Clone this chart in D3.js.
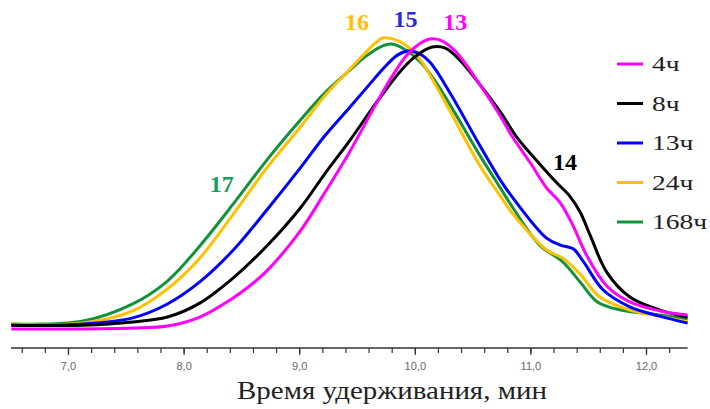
<!DOCTYPE html>
<html>
<head>
<meta charset="utf-8">
<script src="https://cdn.jsdelivr.net/npm/d3@7"></script>
<style>
  body { margin: 0; background: #fff; }
</style>
</head>
<body>
<script>
// retention time (min), detector signal (arb. units, 0..100)
var series4h = [[6.51,-1.0],[7.13,-1.0],[7.56,-0.7],[7.86,0.0],[8.14,3.1],[8.43,9.7],[8.57,13.8],[8.72,19.0],[9.01,32.8],[9.22,45.9],[9.44,60.3],[9.64,74.8],[9.79,85.2],[9.93,93.4],[10.05,97.6],[10.13,99.0],[10.22,98.6],[10.35,94.8],[10.56,83.4],[10.74,72.4],[10.84,65.5],[11.00,56.2],[11.14,47.6],[11.26,42.4],[11.37,34.5],[11.49,24.1],[11.66,13.8],[11.86,8.3],[12.12,5.2],[12.36,3.8]];
var series8h = [[6.51,0.3],[7.13,0.3],[7.56,1.4],[7.86,3.1],[8.14,7.9],[8.43,16.6],[8.72,27.6],[9.01,40.7],[9.22,52.4],[9.44,64.1],[9.66,76.6],[9.87,87.6],[10.00,92.8],[10.15,96.2],[10.26,95.9],[10.39,91.7],[10.56,83.4],[10.74,73.8],[10.88,65.2],[11.08,55.9],[11.23,49.3],[11.34,44.8],[11.43,39.3],[11.52,31.0],[11.66,18.6],[11.86,10.0],[12.12,5.5],[12.36,3.1]];
var series13h = [[6.51,0.3],[7.13,0.7],[7.56,2.8],[7.86,7.6],[8.14,15.2],[8.43,26.2],[8.72,40.0],[9.01,54.5],[9.22,65.5],[9.44,75.5],[9.61,83.4],[9.74,89.3],[9.85,93.4],[9.94,94.8],[10.03,94.1],[10.13,91.0],[10.30,80.7],[10.56,62.4],[10.74,50.3],[10.85,44.1],[11.14,30.3],[11.26,27.9],[11.37,26.6],[11.46,22.1],[11.63,12.4],[11.86,6.6],[12.12,3.4],[12.36,1.0]];
var series24h = [[6.51,0.7],[7.13,1.0],[7.56,5.2],[7.86,12.8],[8.14,23.4],[8.43,38.6],[8.72,54.5],[9.01,68.6],[9.22,79.3],[9.44,88.6],[9.57,94.1],[9.66,97.6],[9.72,99.3],[9.81,99.0],[9.92,96.9],[10.05,91.7],[10.17,83.8],[10.30,74.5],[10.56,55.5],[10.74,44.8],[10.85,38.6],[11.14,26.2],[11.28,23.4],[11.43,17.9],[11.60,10.0],[11.86,5.5],[12.12,3.4],[12.36,1.4]];
var series168h = [[6.51,0.7],[7.13,1.7],[7.56,7.6],[7.86,15.5],[8.14,27.6],[8.43,42.1],[8.72,57.2],[9.01,71.0],[9.22,80.3],[9.44,88.3],[9.57,92.8],[9.70,96.2],[9.80,97.2],[9.92,95.2],[10.05,91.0],[10.17,84.8],[10.30,76.6],[10.56,59.0],[10.74,47.6],[10.85,40.7],[11.08,27.9],[11.28,22.1],[11.43,15.2],[11.58,8.3],[11.78,5.5],[12.12,3.8],[12.36,2.4]];

var legendLabels = ["4ч", "8ч", "13ч", "24ч", "168ч"];
var colors = ["#ff00ff", "#000000", "#0000ff", "#ffc000", "#12923a"];
var tickValues = [7, 8, 9, 10, 11, 12];

// peak numbers: label, time, signal
var peakLabels = [["16", 9.50, 102.2], ["15", 9.92, 103.1], ["13", 10.35, 102.2], ["14", 11.30, 53.8], ["17", 8.33, 46.2]];
var peakColors = ["#ffc000", "#2a2ae0", "#ff00ff", "#000000", "#15a05a"];

var serif = "'Liberation Serif', serif";
var width = 710, height = 409;

var svg = d3.select("body").append("svg")
  .attr("width", width)
  .attr("height", height);

var x = d3.scaleLinear().domain([7, 12]).range([68, 646]);
var y = d3.scaleLinear().domain([0, 100]).range([326, 36]);

var line = d3.line()
  .x(function (d) { return x(d[0]); })
  .y(function (d) { return y(d[1]); })
  .curve(d3.curveCatmullRom.alpha(0.5));

var allSeries = [series4h, series8h, series13h, series24h, series168h];
var drawOrder = [4, 3, 2, 1, 0];

drawOrder.forEach(function (i) {
  svg.append("path")
    .attr("d", line(allSeries[i]))
    .attr("fill", "none")
    .attr("stroke", colors[i])
    .attr("stroke-width", 3)
    .attr("stroke-linejoin", "round");
});

// x axis
var axisY = 348;
var minorTicks = d3.range(6.6, 12.3, 0.2);
var axis = d3.axisBottom(x)
  .tickValues(minorTicks)
  .tickSize(5)
  .tickFormat("");
var gAxis = svg.append("g")
  .attr("transform", "translate(0," + axisY + ")")
  .call(axis);
gAxis.select(".domain").remove();
gAxis.selectAll("line").attr("stroke", "#333").attr("stroke-width", 1.2);

svg.append("line")
  .attr("x1", x(6.507)).attr("x2", x(12.36))
  .attr("y1", axisY).attr("y2", axisY)
  .attr("stroke", "#333").attr("stroke-width", 1.6);

var major = d3.axisBottom(x)
  .tickValues(tickValues)
  .tickSize(7)
  .tickPadding(7)
  .tickFormat(function (d) { return d3.format(".1f")(d).replace(".", ","); });
var gMajor = svg.append("g")
  .attr("transform", "translate(0," + axisY + ")")
  .call(major);
gMajor.select(".domain").remove();
gMajor.selectAll("line").attr("stroke", "#333").attr("stroke-width", 1.2);
gMajor.selectAll("text")
  .style("font-family", "'Liberation Sans', Arial, sans-serif")
  .attr("font-size", 11)
  .attr("fill", "#666");

svg.append("text")
  .attr("x", 392)
  .attr("y", 399)
  .attr("text-anchor", "middle")
  .attr("textLength", 310)
  .attr("lengthAdjust", "spacingAndGlyphs")
  .style("font-family", serif)
  .attr("font-size", 26)
  .attr("fill", "#222")
  .text("Время удерживания, мин");

// legend
var legend = svg.append("g");
legendLabels.forEach(function (lab, i) {
  var ly = 64 + i * 39.5;
  legend.append("line")
    .attr("x1", 617).attr("x2", 643)
    .attr("y1", ly).attr("y2", ly)
    .attr("stroke", colors[i])
    .attr("stroke-width", 3);
  legend.append("text")
    .attr("transform", "translate(652," + (ly + 7) + ") scale(1.25,1)")
    .style("font-family", serif)
    .attr("font-size", 22)
    .attr("fill", "#222")
    .text(lab);
});

// peak numbers
peakLabels.forEach(function (p, i) {
  svg.append("text")
    .attr("x", x(p[1]))
    .attr("y", y(p[2]))
    .attr("text-anchor", "middle")
    .style("font-family", serif)
    .attr("font-weight", "bold")
    .attr("font-size", 24)
    .attr("fill", peakColors[i])
    .text(p[0]);
});
</script>
</body>
</html>
